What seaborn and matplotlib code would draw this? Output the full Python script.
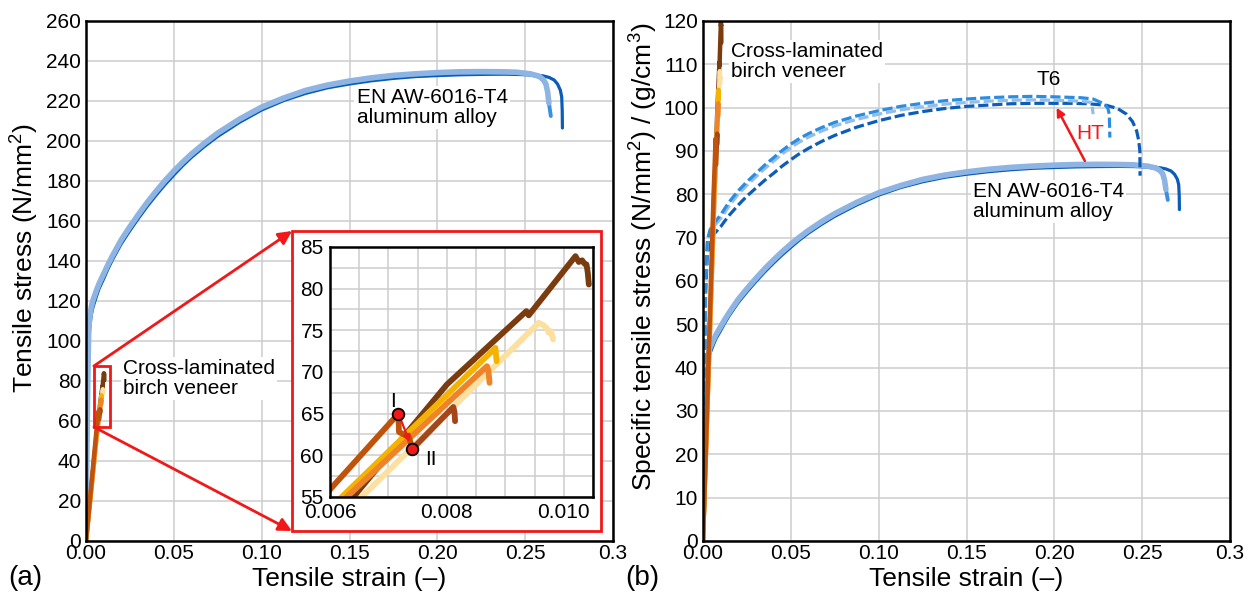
import numpy as np
import matplotlib
matplotlib.use("Agg")
import matplotlib.pyplot as plt
from matplotlib.patches import Rectangle
from matplotlib.ticker import MultipleLocator, FixedLocator
import seaborn as sns

# ---------------- data ----------------
# EN AW-6016-T4 aluminium, engineering stress in N/mm^2
t4_dark_strain = [0, 0.0005, 0.001, 0.0015, 0.002, 0.003, 0.004, 0.006, 0.0075, 0.01, 0.0125, 0.015,
                  0.02, 0.025, 0.03, 0.035, 0.04, 0.045, 0.05, 0.055, 0.06, 0.0675, 0.075, 0.0875,
                  0.1, 0.1125, 0.125, 0.1375, 0.15, 0.1625, 0.175, 0.1875, 0.2, 0.2125, 0.225,
                  0.2375, 0.245, 0.2542, 0.26, 0.2636, 0.2665, 0.2684, 0.270, 0.2708, 0.2711, 0.2712]
t4_dark_stress = [0, 35, 70, 96, 106, 113, 117, 122.5, 126.3, 131, 136, 140.5,
                  148.5, 155.2, 161.5, 167.5, 173, 178.2, 183, 187.6, 191.8, 197.3, 202.3, 209.4,
                  215.5, 220.2, 223.8, 226.6, 228.5, 230.1, 231.3, 232.2, 232.7, 233.1, 233.3,
                  233.4, 233.3, 233.0, 232.6, 231.8, 230.5, 228.5, 225.5, 222, 215, 206.5]

t4_mid_strain = [0, 0.0005, 0.001, 0.0015, 0.002, 0.003, 0.004, 0.006, 0.0075, 0.01, 0.0125, 0.015,
                 0.02, 0.025, 0.03, 0.035, 0.04, 0.045, 0.05, 0.055, 0.06, 0.0675, 0.075, 0.0875,
                 0.1, 0.1125, 0.125, 0.1375, 0.15, 0.1625, 0.175, 0.1875, 0.2, 0.2125, 0.225,
                 0.2375, 0.245, 0.253, 0.258, 0.2605, 0.2618, 0.2628, 0.2635, 0.2641, 0.2646]
t4_mid_stress = [6, 43, 78, 101, 110, 116, 119.8, 125, 128.3, 133, 137.7, 142,
                 150, 156.7, 163, 169, 174.5, 179.7, 184.5, 188.9, 193, 198.5, 203.5, 210.5,
                 216.5, 221, 224.8, 227.5, 229.6, 231.1, 232.4, 233.2, 233.8, 234.1, 234.3,
                 234.2, 234.0, 233.2, 232.0, 230.2, 228.2, 224.3, 219.2, 215.5, 212.5]

t4_light_strain = [0, 0.0005, 0.001, 0.0015, 0.002, 0.003, 0.004, 0.006, 0.0075, 0.01, 0.0125, 0.015,
                   0.02, 0.025, 0.03, 0.035, 0.04, 0.045, 0.05, 0.055, 0.06, 0.0675, 0.075, 0.0875,
                   0.1, 0.1125, 0.125, 0.1375, 0.15, 0.1625, 0.175, 0.1875, 0.2, 0.2125, 0.225,
                   0.2375, 0.245, 0.253, 0.258, 0.2605, 0.2618, 0.2628, 0.2635]
t4_light_stress = [8, 45, 80, 103, 111, 117, 120.5, 125.5, 128.8, 133.5, 138.2, 142.5,
                   150.5, 157.2, 163.5, 169.5, 175, 180.2, 185, 189.4, 193.5, 199.0, 204, 211.0,
                   217, 221.5, 225.3, 228.0, 230, 231.6, 232.8, 233.6, 234.2, 234.6, 234.7,
                   234.6, 234.4, 233.6, 232.4, 230.5, 228.5, 224.5, 219]

# EN AW-6016 after heat treatment (T6), specific stress in (N/mm^2)/(g/cm^3)
t6_dark_strain = [0, 0.0008, 0.0015, 0.0025, 0.004, 0.006, 0.0075, 0.01, 0.0125, 0.015, 0.02, 0.025,
                  0.03, 0.035, 0.04, 0.045, 0.05, 0.055, 0.06, 0.0675, 0.075, 0.0875, 0.1, 0.1125,
                  0.125, 0.1375, 0.15, 0.1625, 0.175, 0.1875, 0.2, 0.21, 0.22, 0.23, 0.236, 0.2411,
                  0.2445, 0.2468, 0.248, 0.2487, 0.2488]
t6_dark_spec = [2, 28, 57, 66, 69, 70.7, 71.4, 72.5, 73.9, 75.2, 77.5, 79.6,
                81.4, 83.2, 84.8, 86.5, 88.0, 89.4, 90.6, 92.2, 93.6, 95.5, 97.0, 98.2,
                99.1, 99.8, 100.3, 100.6, 100.9, 101.0, 101.0, 101.0, 100.9, 100.5, 99.8, 98.5,
                96.8, 94.7, 92.5, 90.0, 84.3]

t6_light_strain = [0, 0.0008, 0.0015, 0.0025, 0.004, 0.006, 0.0075, 0.01, 0.0125, 0.015, 0.02, 0.025,
                   0.03, 0.035, 0.04, 0.045, 0.05, 0.055, 0.06, 0.0675, 0.075, 0.0875, 0.1, 0.1125,
                   0.125, 0.1375, 0.15, 0.1625, 0.175, 0.1875, 0.2, 0.215, 0.2212, 0.2221]
t6_light_spec = [2, 39, 61, 68.6, 71.0, 72.3, 73.2, 74.4, 75.9, 77.4, 80.0, 82.1,
                 84.0, 85.9, 87.6, 89.3, 90.8, 92.1, 93.2, 94.6, 95.8, 97.3, 98.5, 99.5,
                 100.2, 100.8, 101.2, 101.5, 101.7, 101.8, 101.7, 101.5, 101.2, 98.5]

t6_mid_strain = [0, 0.0008, 0.0015, 0.0025, 0.004, 0.006, 0.0075, 0.01, 0.0125, 0.015, 0.02, 0.025,
                 0.03, 0.035, 0.04, 0.045, 0.05, 0.055, 0.06, 0.0675, 0.075, 0.0875, 0.1, 0.1125,
                 0.125, 0.1375, 0.15, 0.1625, 0.175, 0.1875, 0.2, 0.215, 0.222, 0.2288, 0.2305,
                 0.2313, 0.2316]
t6_mid_spec = [2, 40, 62, 69.5, 71.8, 73.1, 74.0, 75.2, 76.8, 78.3, 80.8, 82.9,
               84.8, 86.7, 88.4, 90.1, 91.6, 92.9, 94.0, 95.4, 96.6, 98.1, 99.3, 100.3,
               101.0, 101.6, 102.0, 102.3, 102.5, 102.6, 102.5, 102.3, 102.0, 100.8, 99.8,
               98.5, 93.1]

# Cross-laminated birch veneer, stress in N/mm^2
birch_b_strain = [0, 0.0064, 0.0080, 0.00936, 0.00940, 0.01020, 0.010257, 0.010314, 0.010354,
                  0.010389, 0.010411, 0.010429]
birch_b_stress = [0, 55.0, 68.5, 77.3, 76.8, 83.9, 83.2, 83.4, 83.0, 82.9, 81.9, 80.5]

birch_c_strain = [0, 0.006543, 0.009571, 0.009657, 0.009714, 0.009743, 0.009783, 0.009817]
birch_c_stress = [0, 55.0, 75.9, 75.6, 75.2, 74.7, 74.9, 73.9]

birch_d_strain = [0, 0.0062, 0.00883, 0.00885]
birch_d_stress = [0, 55.0, 72.9, 71.3]

birch_e_strain = [0, 0.006286, 0.008686, 0.00871, 0.00873]
birch_e_stress = [0, 55.0, 70.7, 70.2, 68.7]

# specimen with the marked load drop I -> II
birch_a_strain = [0, 0.006, 0.00717, 0.00718, 0.00735, 0.00741]
birch_a_stress = [0, 55.9, 65.0, 62.8, 62.2, 60.8]
birch_a2_strain = [0.00741, 0.00754, 0.00811, 0.00813, 0.00814]
birch_a2_stress = [60.8, 61.7, 65.8, 65.2, 64.1]

drop_strain = [0.00717, 0.00741]
drop_stress = [65.0, 60.8]
drop_labels = ["I", "II"]

DENSITY_AL = 2.70      # g/cm^3
DENSITY_BIRCH = 0.70   # g/cm^3

x_ticks = [0.0, 0.05, 0.10, 0.15, 0.20, 0.25, 0.3]
x_ticklabels = ["0.00", "0.05", "0.10", "0.15", "0.20", "0.25", "0.3"]
inset_xticks = [0.006, 0.008, 0.010]
inset_xticklabels = ["0.006", "0.008", "0.010"]

# ---------------- style ----------------
sns.set_theme(style="whitegrid")
plt.rcParams.update({
    "font.family": ["Liberation Sans", "DejaVu Sans"],
    "mathtext.fontset": "custom",
    "mathtext.rm": "Liberation Sans",
    "mathtext.it": "Liberation Sans:italic",
    "mathtext.bf": "Liberation Sans:bold",
    "text.color": "black",
    "axes.labelcolor": "black",
    "xtick.color": "black",
    "ytick.color": "black",
})

RED = "#f01818"
GRID = "#cdcdcd"
C_T4_DARK, C_T4_MID, C_T4_LIGHT = "#0a5cb8", "#3a8fe2", "#8db4e2"
C_T6_DARK, C_T6_MID, C_T6_LIGHT = "#0d5db8", "#2a8de0", "#93bde9"
C_A, C_A2, C_B, C_C, C_D, C_E = "#c0530c", "#a3471a", "#7a3c0f", "#fde0a0", "#f5b301", "#ef8327"
DASH = (0, (3.2, 1.2))


def curve(ax, x, y, color, lw, ls="-", z=2):
    sns.lineplot(x=np.asarray(x), y=np.asarray(y), ax=ax, color=color, linewidth=lw,
                 linestyle=ls, sort=False, estimator=None, legend=False, zorder=z,
                 solid_capstyle="round", solid_joinstyle="round", dash_capstyle="butt")


def style_axes(ax, ymax, ystep, xticks=x_ticks, xlabels=x_ticklabels):
    ax.set_facecolor("white")
    ax.set_xlim(0, 0.3)
    ax.set_ylim(0, ymax)
    ax.xaxis.set_major_locator(FixedLocator(xticks))
    ax.set_xticklabels(xlabels)
    ax.yaxis.set_major_locator(MultipleLocator(ystep))
    ax.grid(True, which="major", color=GRID, linewidth=1.1)
    ax.set_axisbelow(True)
    for s in ax.spines.values():
        s.set_visible(True)
        s.set_color("black")
        s.set_linewidth(1.8)
        s.set_zorder(4)
    ax.tick_params(axis="both", which="both", length=0, labelsize=15, colors="black")
    ax.tick_params(axis="x", pad=2)
    ax.tick_params(axis="y", pad=3.5)


def t4_curves(ax, scale):
    curve(ax, t4_dark_strain, np.asarray(t4_dark_stress) / scale, C_T4_DARK, 2.3, z=2)
    curve(ax, t4_mid_strain, np.asarray(t4_mid_stress) / scale, C_T4_MID, 2.8, z=2.1)
    curve(ax, t4_light_strain, np.asarray(t4_light_stress) / scale, C_T4_LIGHT, 4.0, z=2.2)


def birch_curves(ax, scale, lw):
    curve(ax, birch_b_strain, np.asarray(birch_b_stress) / scale, C_B, lw, z=3)
    curve(ax, birch_c_strain, np.asarray(birch_c_stress) / scale, C_C, lw, z=3.1)
    curve(ax, birch_d_strain, np.asarray(birch_d_stress) / scale, C_D, lw, z=3.2)
    curve(ax, birch_e_strain, np.asarray(birch_e_stress) / scale, C_E, lw, z=3.3)
    curve(ax, birch_a_strain, np.asarray(birch_a_stress) / scale, C_A, lw, z=3.4)
    curve(ax, birch_a2_strain, np.asarray(birch_a2_stress) / scale, C_A2, lw, z=3.35)


W, H = 1249, 599
fig = plt.figure(figsize=(W / 100, H / 100), dpi=100)
fig.patch.set_facecolor("white")
ax1 = fig.add_axes([86 / W, 58 / H, 527 / W, 520 / H])
ax2 = fig.add_axes([703 / W, 58 / H, 527 / W, 520 / H])

# ---------------- (a) tensile stress ----------------
style_axes(ax1, 260, 20)
t4_curves(ax1, 1.0)
birch_curves(ax1, 1.0, 3.2)
ax1.set_xlabel("Tensile strain (–)", fontsize=19)
ax1.set_ylabel("Tensile stress (N/mm$^\\mathregular{2}$)", fontsize=19)
ax1.xaxis.set_label_coords(0.5, -0.05)
ax1.yaxis.set_label_coords(-0.0854, 0.544)

box = dict(facecolor="white", edgecolor="none", pad=1.5)
ax1.text(0.154, 226.5, "EN AW-6016-T4\naluminum alloy", fontsize=15, ha="left", va="top",
         bbox=box, zorder=5, linespacing=1.05)
ax1.text(0.0212, 91, "Cross-laminated\nbirch veneer", fontsize=15, ha="left", va="top",
         bbox=box, zorder=5, linespacing=1.05)

# zoom window and its enlarged frame
ax1.add_patch(Rectangle((0.0045, 57), 0.009, 30.5, fill=False, edgecolor=RED, linewidth=2,
                        zorder=7, clip_on=False))
ax1.add_patch(Rectangle((0.1173, 5), 0.1756, 150, facecolor="white", edgecolor=RED,
                        linewidth=2, zorder=6, clip_on=False))
for y0, y1 in [(87.5, 155), (57, 5)]:
    ax1.annotate("", xy=(0.1173, y1), xytext=(0.0045, y0),
                 arrowprops=dict(arrowstyle="-|>", color=RED, lw=2, mutation_scale=20,
                                 shrinkA=0, shrinkB=0), zorder=7)

# ---------------- inset ----------------
axi = fig.add_axes([330 / W, (H - 497) / H, 263 / W, 250 / H])
axi.set_zorder(5)
axi.set_facecolor("white")
axi.set_xlim(0.006, 0.0105)
axi.set_ylim(55, 85)
axi.xaxis.set_major_locator(FixedLocator(inset_xticks))
axi.set_xticklabels(inset_xticklabels)
axi.xaxis.set_minor_locator(MultipleLocator(0.0005))
axi.yaxis.set_major_locator(MultipleLocator(5))
axi.yaxis.set_minor_locator(MultipleLocator(2.5))
axi.grid(True, which="both", color=GRID, linewidth=1.1)
axi.set_axisbelow(True)
for s in axi.spines.values():
    s.set_visible(True)
    s.set_color("black")
    s.set_linewidth(1.8)
    s.set_zorder(4)
axi.tick_params(axis="both", which="both", length=0, labelsize=15, colors="black")
axi.tick_params(axis="x", pad=4.5)
axi.tick_params(axis="y", pad=4.5)
birch_curves(axi, 1.0, 4.2)
axi.annotate("", xy=(drop_strain[1], drop_stress[1]), xytext=(drop_strain[0], drop_stress[0]),
             arrowprops=dict(arrowstyle="-|>", color=RED, lw=1.6, mutation_scale=10,
                             shrinkA=5, shrinkB=5), zorder=6)
sns.scatterplot(x=drop_strain, y=drop_stress, ax=axi, s=70, color=RED, edgecolor="black",
                linewidth=1.3, zorder=7, legend=False)
axi.text(0.00708, 66.5, drop_labels[0], fontsize=15, ha="center", va="center", zorder=8)
axi.text(0.007722, 59.5, drop_labels[1], fontsize=15, ha="center", va="center", zorder=8)
axi.set_xlabel("")
axi.set_ylabel("")

# ---------------- (b) specific tensile stress ----------------
style_axes(ax2, 120, 10)
curve(ax2, t6_dark_strain, t6_dark_spec, C_T6_DARK, 2.3, ls=DASH, z=2.3)
curve(ax2, t6_light_strain, t6_light_spec, C_T6_LIGHT, 2.3, ls=DASH, z=2.4)
curve(ax2, t6_mid_strain, t6_mid_spec, C_T6_MID, 2.3, ls=DASH, z=2.5)
t4_curves(ax2, DENSITY_AL)
birch_curves(ax2, DENSITY_BIRCH, 3.2)
ax2.set_xlabel("Tensile strain (–)", fontsize=19)
ax2.set_ylabel("Specific tensile stress (N/mm$^\\mathregular{2}$) / (g/cm$^\\mathregular{3}$)",
               fontsize=19)
ax2.xaxis.set_label_coords(0.5, -0.05)
ax2.yaxis.set_label_coords(-0.0816, 0.547)

ax2.text(0.0158, 115.2, "Cross-laminated\nbirch veneer", fontsize=15, ha="left", va="top",
         bbox=box, zorder=5, linespacing=1.05)
ax2.text(0.1538, 82.9, "EN AW-6016-T4\naluminum alloy", fontsize=15, ha="left", va="top",
         bbox=box, zorder=5, linespacing=1.05)
ax2.text(0.197, 106.4, "T6", fontsize=15, ha="center", va="center", zorder=5)
ax2.text(0.2203, 94.1, "HT", fontsize=15, ha="center", va="center", color=RED, zorder=5)
ax2.annotate("", xy=(0.2013, 100.0), xytext=(0.2174, 87.7),
             arrowprops=dict(arrowstyle="-|>", color=RED, lw=1.8, mutation_scale=12,
                             shrinkA=0, shrinkB=0), zorder=5)

fig.text(8 / W, (H - 578) / H, "(a)", fontsize=20, ha="left", va="center")
fig.text(625 / W, (H - 578) / H, "(b)", fontsize=20, ha="left", va="center")

fig.savefig("out.png", dpi=100, facecolor="white")
